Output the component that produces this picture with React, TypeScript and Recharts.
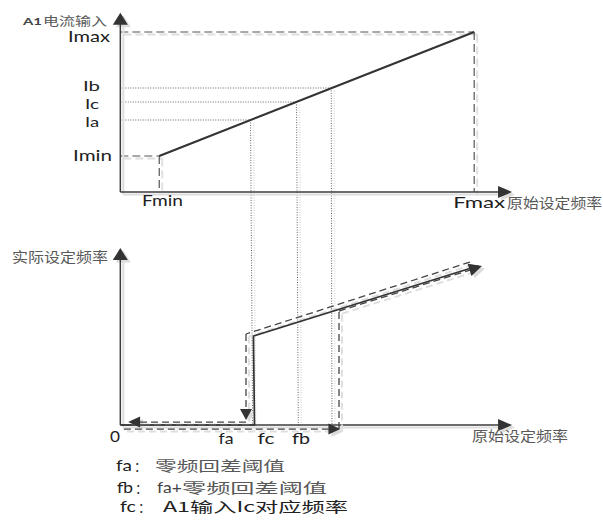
import React from 'react'
import { ComposedChart, Line, XAxis, YAxis, ReferenceLine, ReferenceDot } from 'recharts'

// x: original set frequency, shared by both panels
const F_DOMAIN = [-17, 68.2]
// top panel: A1 current input, bottom panel: actual set frequency
const I_DOMAIN = [-41.125, 24]
const A_DOMAIN = [-13.56, 60.05]

const axisEndF = 55.35
const topAxisEnd = 22.4
const bottomAxisEnd = 25

// input curve and its limits
const inputCurve = [
    { f: 5.5, v: 4.5 },
    { f: 50, v: 20 },
]
const limitNames = ['Imax', 'Imin']
const limitLevels = [20, 4.5]
const limitFreqNames = ['Fmax', 'Fmin']
const limitFreqs = [50, 5.5]

// Ib, Ic, Ia, dropped to the lower panel
const pointNames = ['Ib', 'Ic', 'Ia']
const pointLevels = [13, 11.25, 9]
const pointFreqs = [29.8, 24.9, 18.4]
const pointDropFreqs = [29.9, 25.15, 18.7]
const dropLevel = -29.5

// lower panel: actual vs original set frequency
const actualCurve = [
    { f: 0, v: 0 },
    { f: 18.96, v: 0 },
    { f: 18.81, v: 12.57 },
    { f: 50.6, v: 22.5 },
]
const actualTip = { f: 51.1, v: 22.46 }
const fallPath = [
    { f: 49.4, v: 23.03 },
    { f: 17.76, v: 12.86 },
    { f: 17.76, v: 0.71 },
]
const fallReturn = [
    { f: 17.76, v: 0.42 },
    { f: 1.1, v: 0.42 },
]
const riseRun = [
    { f: 0.5, v: -0.57 },
    { f: 31.1, v: -0.57 },
]
const risePath = [
    { f: 30.9, v: -0.57 },
    { f: 30.9, v: 16.1 },
    { f: 49.4, v: 21.9 },
]
const freqNames = ['fa', 'fc', 'fb']
const freqLabelAt = [14.94, 20.59, 25.53]

const legendKeys = ['fa', 'fb', 'fc']
const legendPrefix = ['', 'fa+', '']
const legendTexts = ['零频回差阈值', '零频回差阈值', 'A1输入Ic对应频率']

const LATIN = 'Lato, "Open Sans", sans-serif'
const CJK = '"Noto Sans CJK SC", sans-serif'

type Pt = { f: number; v: number }
type SegStyle = { color?: string; width?: number; dash?: string; shadow?: boolean; head?: [number, number]; noLine?: boolean }

function segShape(s: SegStyle) {
    return (p: any) => {
        const { x1, y1, x2, y2 } = p
        const dx = x2 - x1
        const dy = y2 - y1
        const len = Math.hypot(dx, dy) || 1
        const ux = dx / len
        const uy = dy / len
        const color = s.color ?? '#444'
        const width = s.width ?? 1.3
        let ex = x2
        let ey = y2
        let tri = ''
        let triShadow = ''
        if (s.head) {
            const [hl, hw] = s.head
            ex = x2 - ux * hl * 0.7
            ey = y2 - uy * hl * 0.7
            const bx = x2 - ux * hl
            const by = y2 - uy * hl
            const pts = [
                [x2, y2],
                [bx - uy * hw, by + ux * hw],
                [bx + uy * hw, by - ux * hw],
            ]
            tri = pts.map(q => q.join(',')).join(' ')
            triShadow = pts.map(q => [q[0] + 3, q[1] + 2.5].join(',')).join(' ')
        }
        return (
            <g>
                {s.shadow && !s.noLine && (
                    <line x1={x1 + 3} y1={y1 + 2.5} x2={ex + 3} y2={ey + 2.5} stroke="#dedede" strokeWidth={width + 0.6} strokeDasharray={s.dash} />
                )}
                {s.shadow && tri && <polygon points={triShadow} fill="#dcdcdc" />}
                {!s.noLine && (
                    <line x1={x1} y1={y1} x2={ex} y2={ey} stroke={color} strokeWidth={width} strokeDasharray={s.dash} />
                )}
                {tri && <polygon points={tri} fill="#333" />}
            </g>
        )
    }
}

const seg = (key: string, yId: string, a: Pt, b: Pt, s: SegStyle) => (
    <ReferenceLine
        key={key}
        yAxisId={yId}
        ifOverflow="visible"
        segment={[{ x: a.f, y: a.v }, { x: b.f, y: b.v }]}
        shape={segShape(s)}
    />
)

const path = (key: string, yId: string, pts: Pt[], s: SegStyle) =>
    pts.slice(1).map((q, k) => seg(`${key}${k}`, yId, pts[k], q, k === pts.length - 2 ? s : { ...s, head: undefined }))

type TxtStyle = { dx?: number; dy?: number; anchor?: 'start' | 'middle' | 'end'; w?: number; size?: number; cjk?: boolean; color?: string; bold?: boolean }

function Txt({ x, y, text, t }: { x: number; y: number; text: string; t: TxtStyle }) {
    return (
        <text
            x={x}
            y={y}
            textAnchor={t.anchor ?? 'start'}
            dominantBaseline="central"
            fontFamily={t.cjk ? CJK : LATIN}
            fontSize={t.size ?? 16}
            fontWeight={t.bold ? 700 : 400}
            fill={t.color ?? (t.cjk ? '#595959' : '#1e1e1e')}
            textLength={t.w}
            lengthAdjust={t.w ? 'spacingAndGlyphs' : undefined}
        >
            {text}
        </text>
    )
}

const label = (key: string, yId: string, f: number, v: number, text: string, t: TxtStyle) => (
    <ReferenceDot
        key={key}
        yAxisId={yId}
        x={f}
        y={v}
        r={0}
        ifOverflow="visible"
        shape={(p: any) => <Txt x={p.cx + (t.dx ?? 0)} y={p.cy + (t.dy ?? 0)} text={text} t={t} />}
    />
)

const AXIS: SegStyle = { color: '#3c3c3c', width: 1.5, shadow: true }
const DASH_TOP: SegStyle = { color: '#555', width: 1.2, dash: '8 4', shadow: true }
const DOT: SegStyle = { color: '#666', width: 1, dash: '1 1.5' }
const DOT_DROP: SegStyle = { color: '#666', width: 1, dash: '1 1.5', shadow: true }
const DASH_LOW: SegStyle = { color: '#444', width: 1.3, dash: '7 4', shadow: true }

const limitLabel: Record<string, TxtStyle> = {
    Imax: { anchor: 'end', dx: -10.3, dy: 4, w: 42, size: 15 },
    Imin: { anchor: 'end', dx: -8.3, dy: -1, w: 39, size: 15 },
    Fmax: { anchor: 'middle', dx: 5, dy: 10, w: 52, size: 15 },
    Fmin: { anchor: 'middle', dx: 3.3, dy: 8, w: 41, size: 15 },
}
const pointLabel: Record<string, TxtStyle> = {
    Ib: { anchor: 'end', dx: -20.3, dy: -2.5, w: 17, size: 14 },
    Ic: { anchor: 'end', dx: -21.3, dy: 1, w: 14, size: 14 },
    Ia: { anchor: 'end', dx: -21.3, dy: 1, w: 14, size: 14 },
}
const freqWidths = [15, 17, 18]

export default function App() {
    return (
        <div style={{ position: 'absolute', left: 0, top: 0, width: 603, height: 521, background: '#fff' }}>
            <ComposedChart width={603} height={521} margin={{ top: 0, right: 0, bottom: 0, left: 0 }}>
                <XAxis type="number" dataKey="f" domain={F_DOMAIN} allowDataOverflow hide />
                <YAxis yAxisId="cur" type="number" domain={I_DOMAIN} allowDataOverflow hide />
                <YAxis yAxisId="act" type="number" domain={A_DOMAIN} allowDataOverflow hide />

                {/* top panel: guides */}
                {limitLevels.map((lv, k) => [
                    seg(`lh${k}`, 'cur', { f: 0, v: lv }, { f: limitFreqs[k], v: lv }, DASH_TOP),
                    seg(`lv${k}`, 'cur', { f: limitFreqs[k], v: lv }, { f: limitFreqs[k], v: 0 }, DASH_TOP),
                ])}
                {pointLevels.map((lv, k) => [
                    seg(`ph${k}`, 'cur', { f: 0, v: lv }, { f: pointFreqs[k], v: lv }, DOT),
                    seg(`pv${k}`, 'cur', { f: pointFreqs[k], v: lv }, { f: pointDropFreqs[k], v: dropLevel }, DOT_DROP),
                ])}

                {/* axes */}
                {seg('ty', 'cur', { f: 0, v: 0 }, { f: 0, v: topAxisEnd }, { ...AXIS, head: [12, 7.5] })}
                {seg('tx', 'cur', { f: 0, v: 0 }, { f: axisEndF, v: 0 }, { ...AXIS, head: [14, 6] })}
                {seg('by', 'act', { f: 0, v: 0 }, { f: 0, v: bottomAxisEnd }, { ...AXIS, head: [12, 7.5] })}
                {seg('bx', 'act', { f: 0, v: 0 }, { f: axisEndF, v: 0 }, { ...AXIS, head: [14, 6] })}

                {/* lower panel: hysteresis paths */}
                {path('fp', 'act', fallPath, { ...DASH_LOW, head: [11, 6] })}
                {path('fr', 'act', fallReturn, { ...DASH_LOW, head: [12, 5.5] })}
                {path('rr', 'act', riseRun, { ...DASH_LOW, head: [12, 5.5] })}
                {path('rp', 'act', risePath, DASH_LOW)}
                {seg('tip', 'act', actualCurve[2], actualTip, { head: [13, 6.5], noLine: true, shadow: true })}

                <Line yAxisId="cur" data={inputCurve} dataKey="v" type="linear" stroke="#333" strokeWidth={2.2} dot={false} activeDot={false} isAnimationActive={false} />
                <Line yAxisId="act" data={actualCurve} dataKey="v" type="linear" stroke="#333" strokeWidth={1.7} dot={false} activeDot={false} isAnimationActive={false} />

                {/* labels */}
                {limitNames.map((n, k) => label(`ln${k}`, 'cur', 0, limitLevels[k], n, limitLabel[n]))}
                {limitFreqNames.map((n, k) => label(`lf${k}`, 'cur', limitFreqs[k], 0, n, limitLabel[n]))}
                {pointNames.map((n, k) => label(`pn${k}`, 'cur', 0, pointLevels[k], n, pointLabel[n]))}
                {label('ya1', 'cur', 0, topAxisEnd, 'A1', { anchor: 'end', dx: -78.3, dy: 8, w: 19, size: 10, bold: true, color: '#444' })}
                {label('ya2', 'cur', 0, topAxisEnd, '电流输入', { anchor: 'end', dx: -13.3, dy: 8, w: 64, size: 12, cjk: true })}
                {label('tx1', 'cur', axisEndF, 0, '原始设定频率', { dx: -5, dy: 10, w: 95, size: 14, cjk: true })}

                {label('by1', 'act', 0, bottomAxisEnd, '实际设定频率', { anchor: 'end', dx: -12.3, dy: 8, w: 96, size: 14, cjk: true })}
                {label('zero', 'act', 0, 0, '0', { anchor: 'middle', dx: -5.3, dy: 10, w: 10 })}
                {freqNames.map((n, k) => label(`fn${k}`, 'act', freqLabelAt[k], 0, n, { anchor: 'middle', dy: 12, w: freqWidths[k] }))}
                {label('bx1', 'act', axisEndF, 0, '原始设定频率', { dx: -40, dy: 10, w: 96, size: 14, cjk: true })}
            </ComposedChart>

            <svg width={603} height={521} style={{ position: 'absolute', left: 0, top: 0, pointerEvents: 'none' }}>
                {legendKeys.map((key, k) => {
                    const y = [465, 487, 506][k]
                    const x0 = [116, 117, 120][k]
                    const xt = [155, 182, 163][k]
                    const wt = [130, 145, 185][k]
                    return (
                        <g key={key}>
                            <Txt x={x0} y={y} text={key} t={{ w: 16, size: 15 }} />
                            <Txt x={x0 + 18} y={y} text="：" t={{ size: 13, cjk: true, color: '#333' }} />
                            {legendPrefix[k] && <Txt x={157} y={y} text={legendPrefix[k]} t={{ w: 25, size: 15, color: '#444' }} />}
                            <Txt x={xt} y={y} text={legendTexts[k]} t={{ w: wt, size: 14, cjk: true, color: k === 2 ? '#222' : '#595959' }} />
                        </g>
                    )
                })}
            </svg>
        </div>
    )
}
